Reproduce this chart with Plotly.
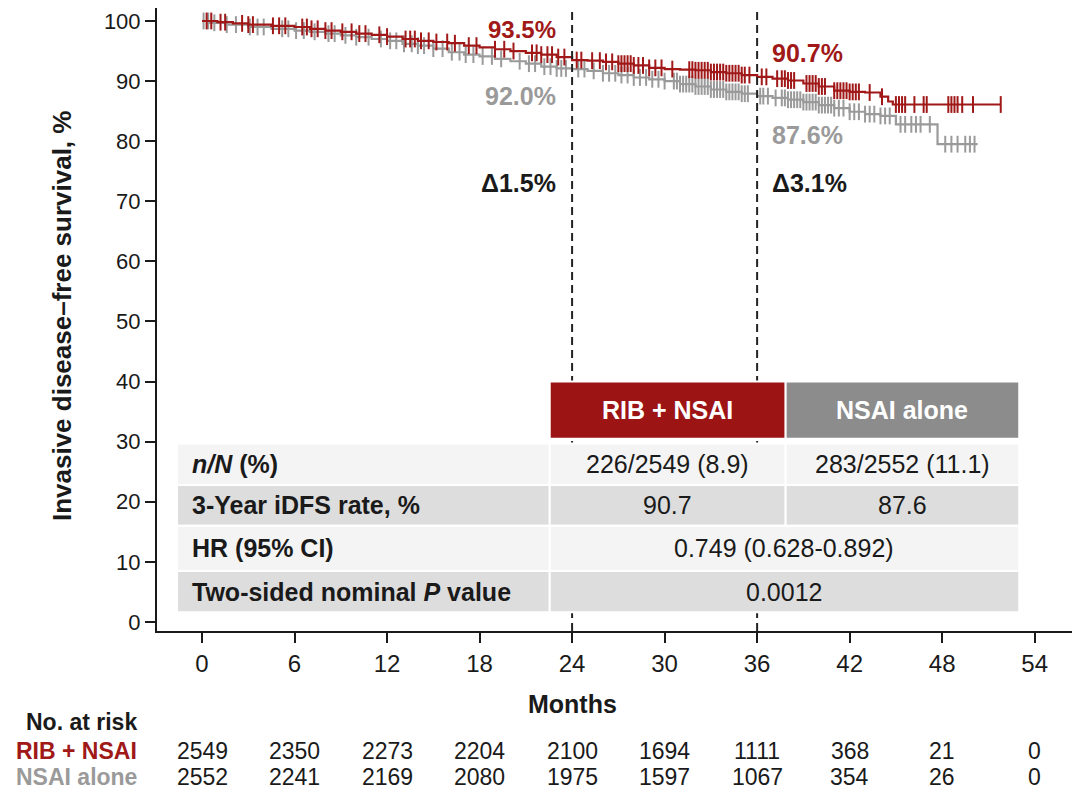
# Kaplan-Meier style iDFS chart with embedded summary table and numbers at risk
import numpy as np
import plotly.graph_objects as go

FONT = 'Arial, "Liberation Sans", sans-serif'
RED = '#a01818'
GRAY = '#9a9a9a'
RED_HDR = '#9c1414'
GRAY_HDR = '#8c8c8c'
ROW_LIGHT = '#f4f4f4'
ROW_DARK = '#dddddd'
INK = '#1a1a1a'

# step curves (month, survival %)
red_t = [0, 1, 2, 3, 4.5, 6, 7, 8, 9, 10, 11, 12, 13, 14, 15, 16, 17, 18, 19, 20,
         21, 22, 23, 24, 25, 26, 27, 28, 29, 30, 31, 32, 33, 34, 35, 36, 37, 38,
         39, 40, 41, 42, 43, 44, 44.5, 44.8, 51.8]
red_s = [100, 99.8, 99.6, 99.4, 99.2, 99.0, 98.7, 98.4, 98.2, 97.9, 97.7, 97.4,
         97.0, 96.7, 96.5, 96.3, 95.9, 95.6, 95.3, 95.0, 94.7, 94.4, 94.0, 93.5,
         93.4, 93.2, 92.9, 92.6, 92.2, 92.0, 91.9, 91.8, 91.5, 91.3, 91.0, 90.7,
         90.4, 90.1, 89.6, 89.1, 88.4, 88.2, 88.1, 87.4, 86.6, 86.1, 86.1]
gray_t = [0, 0.5, 1.5, 3, 4.5, 6, 7, 8, 9, 10, 11, 12, 13, 14, 15, 16, 17, 18, 19,
          20, 21, 22, 23, 24, 25, 26, 27, 28, 29, 30, 31, 32, 33, 34, 35, 36, 37,
          38, 39, 40, 41, 42, 43, 44, 45, 47.7, 50.3]
gray_s = [100, 99.7, 99.4, 99.0, 98.7, 98.4, 98.2, 97.9, 97.6, 97.3, 97.0, 96.7,
          96.2, 95.9, 95.4, 94.8, 94.4, 94.1, 93.7, 93.3, 92.9, 92.4, 92.1, 92.0,
          91.7, 91.3, 91.0, 90.6, 90.3, 90.0, 89.5, 89.1, 88.6, 88.2, 87.9, 87.5,
          87.2, 86.9, 86.5, 86.0, 85.5, 84.9, 84.5, 84.2, 82.8, 79.5, 79.5]

# censoring times (months)
red_cens = [0.3, 0.6, 1.2, 1.5, 2.6, 3.0, 3.3, 4.6, 5.0, 5.4, 6.5, 6.8, 7.1, 7.5,
            8.0, 8.4, 9.1, 9.7, 10.2, 10.6, 11.5, 12.0, 13.2, 13.5, 13.8, 14.2,
            14.7, 15.2, 15.9, 16.4, 17.3, 17.8, 19.0, 19.6, 20.2, 21.4, 21.7, 22.0,
            22.4, 22.7, 23.1, 23.5, 24.3, 24.6, 25.3, 25.8, 26.2, 26.6, 27.0, 27.2,
            27.4, 27.6, 27.8, 28.0, 28.3, 28.6, 29.0, 29.4, 29.8, 30.5, 31.6, 31.8,
            32.0, 32.2, 32.4, 32.6, 32.8, 33.0, 33.2, 33.4, 33.6, 33.8, 34.0, 34.2,
            34.4, 34.6, 34.8, 35.0, 35.2, 35.5, 36.3, 36.6, 37.3, 37.6, 37.8, 38.0,
            38.2, 38.4, 39.2, 39.4, 39.6, 39.8, 40.0, 40.2, 40.4, 41.0, 41.2, 41.4,
            41.6, 41.8, 42.0, 42.2, 42.4, 42.6, 43.3, 44.1, 45.0, 45.2, 45.4, 45.6,
            46.2, 46.8, 47.0, 48.4, 48.6, 48.8, 49.0, 49.3, 50.0, 51.8]
gray_cens = [0.1, 0.4, 0.8, 1.6, 2.2, 3.1, 3.6, 4.0, 5.2, 5.6, 6.1, 6.6, 7.3, 8.2,
             8.6, 9.3, 10.0, 10.8, 11.6, 12.2, 12.6, 13.1, 13.6, 14.0, 14.4, 15.0,
             15.6, 16.2, 16.7, 17.1, 17.6, 18.2, 18.8, 19.4, 20.6, 21.2, 21.6, 22.2,
             22.6, 23.0, 23.3, 23.6, 24.4, 24.8, 25.4, 26.0, 26.4, 26.8, 27.2, 27.6,
             28.0, 28.4, 28.8, 29.2, 29.6, 30.0, 30.6, 30.8, 31.0, 31.2, 31.4, 31.6,
             31.8, 32.0, 32.2, 32.4, 32.6, 32.8, 33.0, 33.2, 33.4, 33.6, 33.8, 34.0,
             34.2, 34.4, 34.6, 34.8, 35.0, 35.2, 35.4, 36.2, 36.4, 36.7, 37.2, 37.6,
             37.8, 38.0, 38.2, 38.4, 38.6, 38.8, 39.0, 39.2, 39.4, 39.6, 39.8, 40.0,
             40.2, 40.4, 40.6, 40.8, 41.0, 41.3, 41.6, 42.0, 42.3, 42.6, 43.0, 43.3,
             43.6, 44.0, 44.3, 44.6, 45.3, 45.6, 46.0, 46.3, 46.6, 47.2, 48.2, 48.6,
             49.0, 49.5, 49.8, 50.1]

months = [0, 6, 12, 18, 24, 30, 36, 42, 48, 54]
risk_red = [2549, 2350, 2273, 2204, 2100, 1694, 1111, 368, 21, 0]
risk_gray = [2552, 2241, 2169, 2080, 1975, 1597, 1067, 354, 26, 0]

row_labels = ['<b><i>n/N</i> (%)</b>', '<b>3-Year iDFS rate, %</b>',
              '<b>HR (95% CI)</b>', '<b>Two-sided nominal <i>P</i> value</b>']
col_red = ['226/2549 (8.9)', '90.7']
col_gray = ['283/2552 (11.1)', '87.6']
merged = ['0.749 (0.628-0.892)', '0.0012']


def step_at(t_arr, s_arr, t):
    i = np.searchsorted(np.array(t_arr), t, side='right') - 1
    return np.array(s_arr)[i]


fig = go.Figure()
for t, s, c, col in [(gray_t, gray_s, gray_cens, GRAY), (red_t, red_s, red_cens, RED)]:
    fig.add_trace(go.Scatter(x=t, y=s, mode='lines', line=dict(color=col, width=2.2, shape='hv'),
                             showlegend=False, hoverinfo='skip'))
    fig.add_trace(go.Scatter(x=c, y=step_at(t, s, c), mode='markers',
                             marker=dict(symbol='line-ns-open', size=12, color=col,
                                         line=dict(color=col, width=2)),
                             showlegend=False, hoverinfo='skip'))

shapes = []
# reference lines at 24 and 36 months
for xv in [24, 36]:
    shapes.append(dict(type='line', xref='x', yref='y', x0=xv, x1=xv, y0=-1.5, y1=101.6,
                       line=dict(color='#222222', width=2, dash='8px,5px'), layer='above'))

# table geometry (data coordinates)
lab_x = (-1.62, 22.55)
red_x = (22.55, 37.85)
gray_x = (37.85, 53.0)
hdr_y = (30.5, 40.0)
rows_y = [(22.8, 29.7), (16.0, 22.8), (8.5, 16.0), (1.6, 8.5)]
cell = dict(type='rect', xref='x', yref='y', layer='above', line=dict(color='white', width=2))
shapes.append(dict(cell, x0=red_x[0], x1=red_x[1], y0=hdr_y[0], y1=hdr_y[1], fillcolor=RED_HDR))
shapes.append(dict(cell, x0=gray_x[0], x1=gray_x[1], y0=hdr_y[0], y1=hdr_y[1], fillcolor=GRAY_HDR))
for i, (y0, y1) in enumerate(rows_y):
    fc = ROW_LIGHT if i % 2 == 0 else ROW_DARK
    shapes.append(dict(cell, x0=lab_x[0], x1=lab_x[1], y0=y0, y1=y1, fillcolor=fc))
    if i < 2:
        shapes.append(dict(cell, x0=red_x[0], x1=red_x[1], y0=y0, y1=y1, fillcolor=fc))
        shapes.append(dict(cell, x0=gray_x[0], x1=gray_x[1], y0=y0, y1=y1, fillcolor=fc))
    else:
        shapes.append(dict(cell, x0=red_x[0], x1=gray_x[1], y0=y0, y1=y1, fillcolor=fc))

ann = []
tf = dict(family=FONT, size=25, color=INK)
ann.append(dict(x=sum(red_x) / 2, y=sum(hdr_y) / 2, text='<b>RIB + NSAI</b>',
                font=dict(family=FONT, size=25, color='white')))
ann.append(dict(x=sum(gray_x) / 2, y=sum(hdr_y) / 2, text='<b>NSAI alone</b>',
                font=dict(family=FONT, size=25, color='white')))
for i, (y0, y1) in enumerate(rows_y):
    ym = (y0 + y1) / 2
    ann.append(dict(x=-0.75, y=ym, text=row_labels[i], xanchor='left', font=tf))
    if i < 2:
        ann.append(dict(x=sum(red_x) / 2, y=ym, text=col_red[i], font=tf))
        ann.append(dict(x=sum(gray_x) / 2, y=ym, text=col_gray[i], font=tf))
    else:
        ann.append(dict(x=(red_x[0] + gray_x[1]) / 2, y=ym, text=merged[i - 2], font=tf))

# landmark labels
bf = 25
ann += [
    dict(x=23.1, y=98.6, text='<b>93.5%</b>', xanchor='right', font=dict(family=FONT, size=24, color=RED)),
    dict(x=23.1, y=87.6, text='<b>92.0%</b>', xanchor='right', font=dict(family=FONT, size=bf, color=GRAY)),
    dict(x=23.1, y=73.1, text='<b>Δ1.5%</b>', xanchor='right', font=dict(family=FONT, size=bf, color=INK)),
    dict(x=36.85, y=94.6, text='<b>90.7%</b>', xanchor='left', font=dict(family=FONT, size=bf, color=RED)),
    dict(x=36.85, y=81.0, text='<b>87.6%</b>', xanchor='left', font=dict(family=FONT, size=bf, color=GRAY)),
    dict(x=36.85, y=73.1, text='<b>Δ3.1%</b>', xanchor='left', font=dict(family=FONT, size=bf, color=INK)),
]
for a in ann:
    a.setdefault('xref', 'x')
    a.setdefault('yref', 'y')
    a['showarrow'] = False

# axis titles
ann.append(dict(xref='paper', yref='paper', x=-0.103, y=0.507, xanchor='center', yanchor='middle',
                textangle=-90, showarrow=False,
                text='<b>Invasive disease–free survival, %</b>', font=dict(family=FONT, size=26, color=INK)))
ann.append(dict(xref='x', yref='paper', x=24, y=-0.117, yanchor='middle', showarrow=False,
                text='<b>Months</b>', font=dict(family=FONT, size=25, color=INK)))

# numbers at risk
lab_px = -0.0195
nf = dict(family=FONT, size=23, color=INK)
for yv, txt, col in [(-0.146, '<b>No. at risk</b>', INK), (-0.1926, '<b>RIB + NSAI</b>', RED),
                     (-0.2343, '<b>NSAI alone</b>', GRAY)]:
    ann.append(dict(xref='paper', yref='paper', x=lab_px, y=yv, xanchor='right', yanchor='middle',
                    showarrow=False, text=txt, font=dict(family=FONT, size=23, color=col)))
for m, r1, r2 in zip(months, risk_red, risk_gray):
    ann.append(dict(xref='x', yref='paper', x=m, y=-0.1926, yanchor='middle', showarrow=False,
                    text=str(r1), font=nf))
    ann.append(dict(xref='x', yref='paper', x=m, y=-0.2343, yanchor='middle', showarrow=False,
                    text=str(r2), font=nf))

# the page body adds an 8px offset, so the plot box is set up 8px up/left
fig.update_layout(
    width=1080, height=798,
    margin=dict(l=149, r=8, t=0, b=175, autoexpand=False),
    plot_bgcolor='white', paper_bgcolor='white',
    font=dict(family=FONT, size=24, color=INK),
    xaxis=dict(range=[-2.92, 56.94], tickvals=months, showgrid=False, zeroline=False,
               showline=True, linecolor=INK, linewidth=2, ticks='outside', automargin=False,
               ticklen=10, tickwidth=2, tickcolor=INK, tickfont=dict(size=24)),
    yaxis=dict(range=[-1.50, 102.16], tickvals=list(range(0, 101, 10)), showgrid=False,
               zeroline=False, showline=True, linecolor=INK, linewidth=2, automargin=False,
               ticks='outside', ticklen=10, tickwidth=2, tickcolor=INK,
               tickfont=dict(size=22), ticklabeloverflow='allow'),
    shapes=shapes,
    annotations=ann,
)

fig.write_html("out.html")
